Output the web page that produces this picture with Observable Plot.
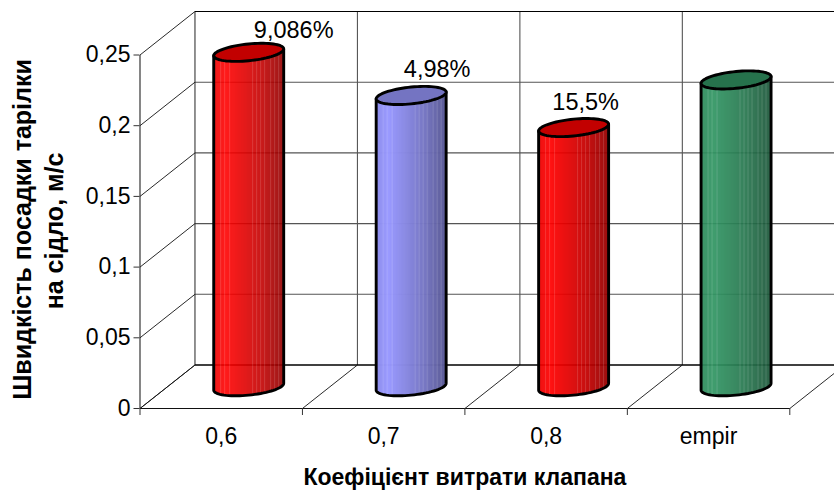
<!DOCTYPE html>
<html><head><meta charset="utf-8">
<style>html,body{margin:0;padding:0;background:#fff;overflow:hidden}svg{display:block}</style>
<script src="https://cdn.jsdelivr.net/npm/d3@7"></script>
<script src="https://cdn.jsdelivr.net/npm/@observablehq/plot@0.6"></script>
</head><body><div id="chart"></div>
<script>
const categories = ["0,6", "0,7", "0,8", "empir"];
const values = [0.2365, 0.206, 0.1833, 0.217];
const colors = ["#ff0000", "#9999ff", "#ff0000", "#329664"];
const pointLabels = ["9,086%", "4,98%", "15,5%", ""];
const labelShift = [0.277, 0.16, 0.074, 0];
const labelLift = [-14, -18, -18, 0];
const yTicks = [0, 0.05, 0.1, 0.15, 0.2, 0.25];
const xBounds = [0, 1, 2, 3, 4];
const stripes = [0.11, 0.16, 0.235, 0.57, 0.62, 0.68, 0.73, 0.82, 0.875, 0.94];
const shadeStops = [0, 0.18, 0.45, 0.7, 1];
const shadeValues = [0.92, 1, 0.88, 0.76, 0.58];
const yTitle = ["Швидкість посадки тарілки", "на сідло, м/с"];
const xTitle = "Коефіцієнт витрати клапана";

// oblique 3D depth, in data units of each scale
const pxX = 1 / 162.5, pxY = 1 / 1414;
const DX = 55 * pxX, DY = 43.5 * pxY;
const yMax = 0.25 + DY;
const R = 35 * pxX, TILT = 3.4 * pxY, MINOR = 8.4 * pxY;
const lift = (v, d) => v + d * DY;
const xz = (i, d) => i + d * DX;
const cx = i => xz(i + 0.5, 0.5);

const shade = d3.scaleLinear().domain(shadeStops).range(shadeValues);
function tone(hex, k) { const c = d3.rgb(hex); return d3.rgb(c.r * k, c.g * k, c.b * k).formatHex(); }
function mixWhite(hex, m) { return d3.interpolateRgb(hex, "#ffffff")(m); }

const bands = [];
const outlines = [], tops = [];
values.forEach((v, i) => {
  const yTop = lift(v, 0.5), yBot = lift(0, 0.5);
  const n = 70;
  for (let j = 0; j < n; j++) {
    const f = (j + 0.5) / n, c = 2 * f - 1;
    const base = tone(colors[i], shade(f));
    const lit = stripes.some(s => Math.abs(s - f) < 0.5 / n);
    bands.push({
      x1: cx(i) - R + j * 2 * R / n, x2: cx(i) - R + (j + 1.3) * 2 * R / n,
      y1: yBot + TILT * c - MINOR * Math.sqrt(1 - c * c), y2: yTop + TILT * c,
      fill: lit ? mixWhite(base, 0.14) : base
    });
  }
  const ring = d3.range(0, 73).map(k => k * 5 * Math.PI / 180);
  tops.push({ i, fill: tone(colors[i], 0.76), pts: ring.map(t => ({
    x: cx(i) + R * Math.cos(t), y: yTop + TILT * Math.cos(t) + MINOR * Math.sin(t) })) });
  const arc = d3.range(0, 37).map(k => k * 5 * Math.PI / 180);
  outlines.push([
    { x: cx(i) - R, y: yTop - TILT },
    ...arc.map(t => ({ x: cx(i) - R * Math.cos(t), y: yBot - TILT * Math.cos(t) - MINOR * Math.sin(t) })),
    { x: cx(i) + R, y: yTop + TILT }
  ]);
});

const gridH = yTicks.slice(1, -1).map(v => ({ x1: xz(0, 1), x2: xz(5, 1), y1: lift(v, 1), y2: lift(v, 1) }));
const gridV = xBounds.slice(1).map(i => ({ x1: xz(i, 1), x2: xz(i, 1), y1: lift(0, 1), y2: lift(0.25, 1) }));
const floorD = xBounds.map(i => ({ x1: xz(i, 0), y1: 0, x2: xz(i, 1), y2: lift(0, 1) }));
const wallD = yTicks.map(v => ({ x1: 0, y1: v, x2: xz(0, 1), y2: lift(v, 1) }));
const L = o => ({ x1: "x1", x2: "x2", y1: "y1", y2: "y2", ...o });

const marks = [
  Plot.link(gridH, L({ stroke: "#555", strokeWidth: 1.1 })),
  Plot.link(gridV, L({ stroke: "#555", strokeWidth: 1.1 })),
  Plot.link([{ x1: xz(0, 1), x2: xz(0, 1), y1: lift(0, 1), y2: lift(0.25, 1) }], L({ stroke: "#222", strokeWidth: 1 })),
  Plot.link([{ x1: xz(0, 1), x2: xz(5, 1), y1: lift(0.25, 1), y2: lift(0.25, 1) }], L({ stroke: "#000", strokeWidth: 1.2 })),
  Plot.link([{ x1: xz(0, 1), x2: xz(5, 1), y1: lift(0, 1), y2: lift(0, 1) }], L({ stroke: "#000", strokeWidth: 1.5 })),
  Plot.link(floorD, L({ stroke: "#111", strokeWidth: 0.9 })),
  Plot.link(wallD, L({ stroke: "#111", strokeWidth: 0.9 })),
  Plot.link([{ x1: 0, x2: 4, y1: 0, y2: 0 }], L({ stroke: "#111", strokeWidth: 1.1 })),
  Plot.link([{ x1: 0, x2: 0, y1: 0, y2: 0.25 }], L({ stroke: "#222", strokeWidth: 1.1 })),
  Plot.axisY({ ticks: yTicks, tickFormat: d => String(d).replace(".", ","), tickSize: 6, tickPadding: 3.5, fontSize: 23, label: null, stroke: "#333" }),
  Plot.axisX({ ticks: xBounds, tickFormat: () => "", tickSize: 7, label: null, stroke: "#333" }),
  Plot.axisX({ ticks: [0.5, 1.5, 2.5, 3.5], tickFormat: d => categories[d - 0.5], tickSize: 0, tickPadding: 19, fontSize: 23, label: null }),
  Plot.rect(bands, { x1: "x1", x2: "x2", y1: "y1", y2: "y2", fill: "fill" }),
  ...outlines.map(o => Plot.line(o, { x: "x", y: "y", stroke: "#000", strokeWidth: 2.9, curve: "linear" })),
  ...tops.map(t => Plot.line(t.pts, { x: "x", y: "y", fill: t.fill, stroke: "#000", strokeWidth: 2.9 })),
  ...values.map((v, i) => Plot.text([pointLabels[i]], {
    x: () => cx(i) + labelShift[i], y: () => lift(v, 0.5), text: d => d,
    fontSize: 23.5, fill: "#000", dy: labelLift[i], lineAnchor: "bottom"
  })),
  Plot.text([yTitle[0]], { frameAnchor: "left", textAnchor: "middle", text: d => d, rotate: -90, fontSize: 25, fontWeight: "bold", dx: -117.5, dy: 19.5, fill: "#000" }),
  Plot.text([yTitle[1]], { frameAnchor: "left", textAnchor: "middle", text: d => d, rotate: -90, fontSize: 25, fontWeight: "bold", dx: -85.5, dy: 21, fill: "#000" }),
  Plot.text([xTitle], { frameAnchor: "bottom", text: d => d, fontSize: 23, fontWeight: "bold", dy: 76, fill: "#000" })
];

const chart = Plot.plot({
  width: 834, height: 493,
  marginLeft: 139.5, marginRight: 44.7, marginTop: 11, marginBottom: 85,
  x: { domain: [0, 4], axis: null },
  y: { domain: [0, yMax], axis: null },
  color: { type: "identity" },
  style: { fontFamily: "'Liberation Sans', Arial, sans-serif", background: "#fff", color: "#000" },
  marks
});
document.getElementById("chart").append(chart);
</script></body></html>
